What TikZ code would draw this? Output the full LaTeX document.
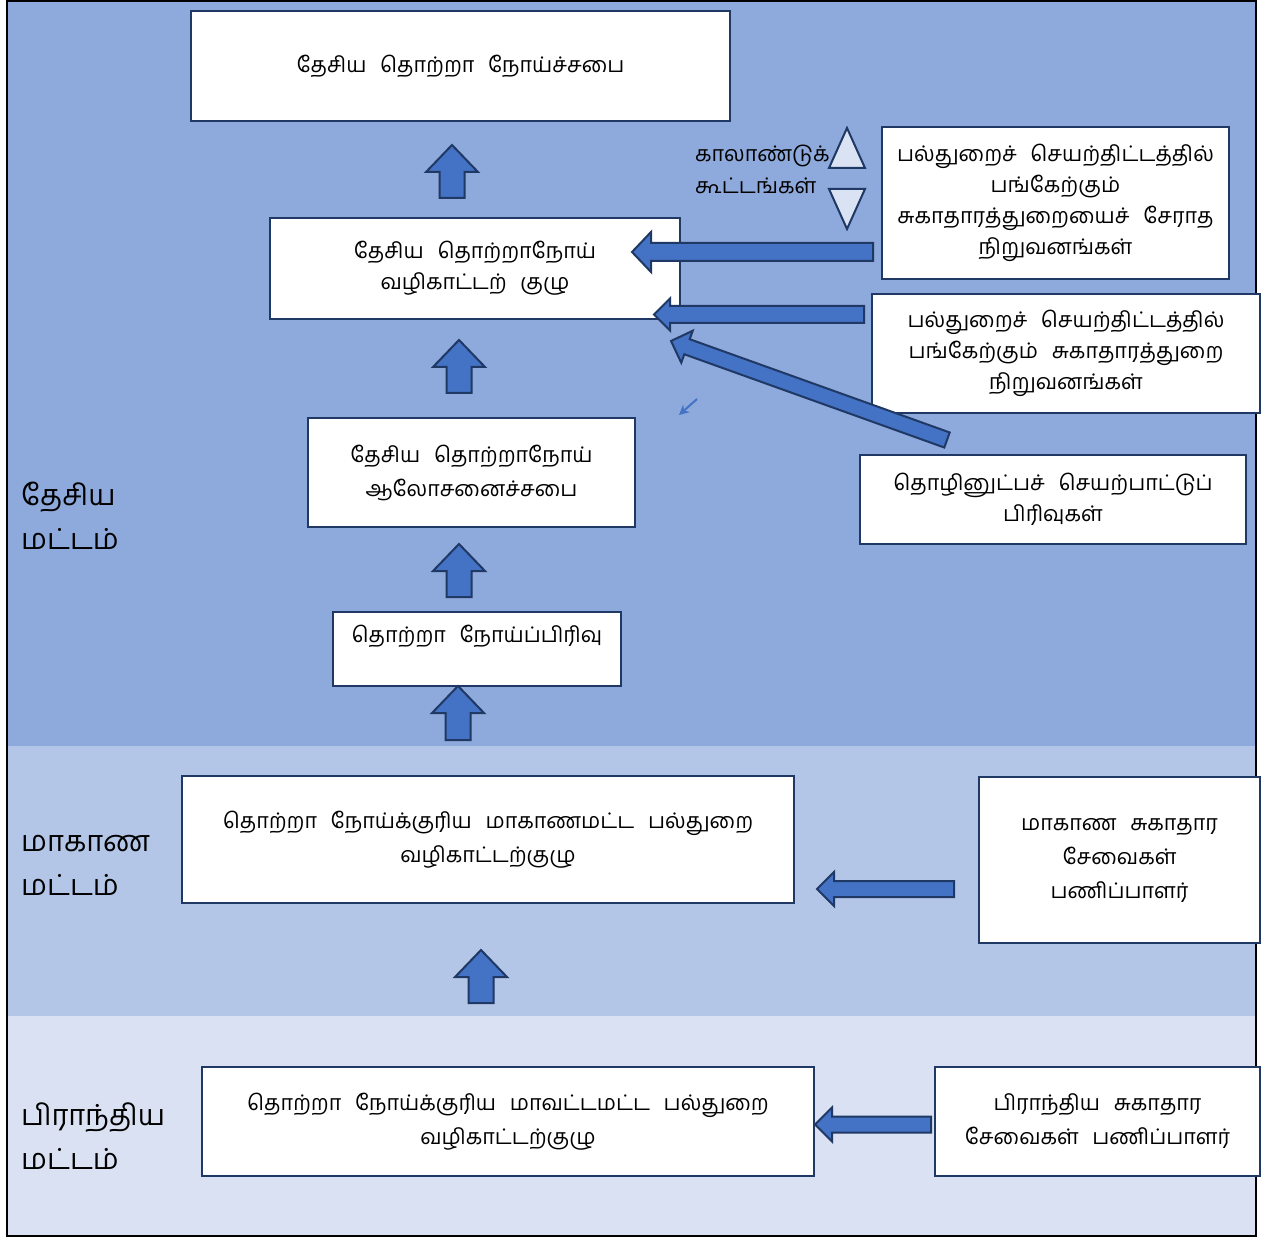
\documentclass[tikz,border=0pt]{standalone}
\usepackage{fontspec}
\newfontfamily\tam[Script=Tamil,WordSpace=2.6]{Hind Madurai}
\usetikzlibrary{calc,arrows.meta}
\definecolor{bandA}{RGB}{142,169,219}
\definecolor{bandB}{RGB}{180,198,231}
\definecolor{bandC}{RGB}{217,225,242}
\definecolor{navy}{RGB}{31,56,100}
\definecolor{afill}{RGB}{68,114,196}
\definecolor{trifill}{RGB}{218,227,243}
\newcommand\blockarrow[5]{%
  \coordinate (hb) at ($(#2)!#5!(#1)$);
  \filldraw[fill=afill,draw=navy,line width=2pt,line join=miter]
    ($(#1)!#3!90:(#2)$) -- ($(hb)!#3!-90:(#1)$) -- ($(hb)!#4!-90:(#1)$) -- (#2)
    -- ($(hb)!#4!90:(#1)$) -- ($(hb)!#3!90:(#1)$) -- ($(#1)!#3!-90:(#2)$) -- cycle;
}
\begin{document}
\begin{tikzpicture}[x=1pt,y=-1pt,
  font=\tam\fontsize{21.5}{31}\selectfont,
  box/.style={draw=navy,line width=2pt,fill=white,align=center,inner sep=0pt},
  lvl/.style={anchor=west,align=left,font=\tam\fontsize{29}{44}\selectfont,inner sep=0pt},
  tri/.style={fill=trifill,draw=navy,line width=2pt,line join=miter}]
\useasboundingbox (0,0) rectangle (1269,1238);
% bands
\fill[bandA] (8,0) rectangle (1255,746);
\fill[bandB] (8,746) rectangle (1255,1016);
\fill[bandC] (8,1016) rectangle (1255,1235);
\draw[black,line width=2pt] (7,1) rectangle (1256,1236);
% level labels
\node[lvl] (lv1) at (21,516) {தேசிய\\மட்டம்};
\node[lvl] (lv2) at (21,865) {மாகாண\\மட்டம்};
\node[lvl] (lv3) at (21,1136) {பிராந்திய\\மட்டம்};
% main boxes
\node[box,minimum width=539pt,minimum height=110pt] (b1) at (460.5,66) {தேசிய தொற்றா நோய்ச்சபை};
\node[box,minimum width=410pt,minimum height=101pt] (b2) at (475,268.5) {தேசிய தொற்றாநோய்\\வழிகாட்டற் குழு};
\node[box,minimum width=327pt,minimum height=109pt] (b3) at (471.5,472.5) {தேசிய தொற்றாநோய்\\[3pt]ஆலோசனைச்சபை};
\node[box,minimum width=288pt,minimum height=74pt] (b4) at (477,649) {};
\node[inner sep=0pt] (b4t) at (477,636) {தொற்றா நோய்ப்பிரிவு};
\node[box,minimum width=612pt,minimum height=127pt] (b5) at (488,839.5) {தொற்றா நோய்க்குரிய மாகாணமட்ட பல்துறை\\[3pt]வழிகாட்டற்குழு};
\node[box,minimum width=612pt,minimum height=109pt] (b6) at (508,1121.5) {தொற்றா நோய்க்குரிய மாவட்டமட்ட பல்துறை\\[3pt]வழிகாட்டற்குழு};
% right boxes
\node[box,minimum width=347pt,minimum height=152pt] (r1) at (1055.5,203) {பல்துறைச் செயற்திட்டத்தில்\\பங்கேற்கும்\\சுகாதாரத்துறையைச் சேராத\\நிறுவனங்கள்};
\node[box,minimum width=388pt,minimum height=119pt] (r2) at (1066,353.5) {பல்துறைச் செயற்திட்டத்தில்\\பங்கேற்கும் சுகாதாரத்துறை\\நிறுவனங்கள்};
\node[box,minimum width=386pt,minimum height=89pt] (r3) at (1053,499.5) {தொழினுட்பச் செயற்பாட்டுப்\\பிரிவுகள்};
\node[box,minimum width=281pt,minimum height=166pt] (r4) at (1119.5,860) {மாகாண சுகாதார\\[3pt]சேவைகள்\\[3pt]பணிப்பாளர்};
\node[box,minimum width=325pt,minimum height=109pt] (r5) at (1097.5,1121.5) {பிராந்திய சுகாதார\\[3pt]சேவைகள் பணிப்பாளர்};
% quarterly meetings
\node[anchor=west,align=left,inner sep=0pt,font=\tam\fontsize{21.5}{32}\selectfont] (qm) at (695,169) {காலாண்டுக்\\கூட்டங்கள்};
\draw[tri] (847,128) -- (865,168) -- (829,168) -- cycle;
\draw[tri] (829,189) -- (865,189) -- (847,229) -- cycle;
% up block arrows
\coordinate (a1s) at (452,198); \coordinate (a1e) at (452,145);
\coordinate (a2s) at (459,393); \coordinate (a2e) at (459,340);
\coordinate (a3s) at (459,597); \coordinate (a3e) at (459,544);
\coordinate (a4s) at (458,740); \coordinate (a4e) at (458,686);
\coordinate (a5s) at (481,1003); \coordinate (a5e) at (481,950);
\blockarrow{a1s}{a1e}{12.5pt}{26pt}{27pt}
\blockarrow{a2s}{a2e}{12.5pt}{26pt}{27pt}
\blockarrow{a3s}{a3e}{12.5pt}{26pt}{27pt}
\blockarrow{a4s}{a4e}{12.5pt}{26pt}{27pt}
\blockarrow{a5s}{a5e}{12.5pt}{26pt}{27pt}
% left block arrows
\coordinate (l1s) at (873,252); \coordinate (l1e) at (632,252);
\coordinate (l2s) at (864,314.5); \coordinate (l2e) at (654,314.5);
\coordinate (l3s) at (947,440); \coordinate (l3e) at (671,341);
\coordinate (l4s) at (954,889); \coordinate (l4e) at (817,889);
\coordinate (l5s) at (931,1124.5); \coordinate (l5e) at (815,1124.5);
\blockarrow{l1s}{l1e}{9pt}{20pt}{19pt}
\blockarrow{l2s}{l2e}{8.5pt}{16pt}{16pt}
\blockarrow{l3s}{l3e}{8pt}{17pt}{17pt}
\blockarrow{l4s}{l4e}{8pt}{17pt}{17pt}
\blockarrow{l5s}{l5e}{8pt}{17pt}{17pt}
% small arrow
\coordinate (sa1) at (697,399); \coordinate (sa2) at (679,415);
\draw[afill,line width=2pt,-{Stealth[length=10pt,width=10pt]}] (sa1) -- (sa2);
\end{tikzpicture}
\end{document}
